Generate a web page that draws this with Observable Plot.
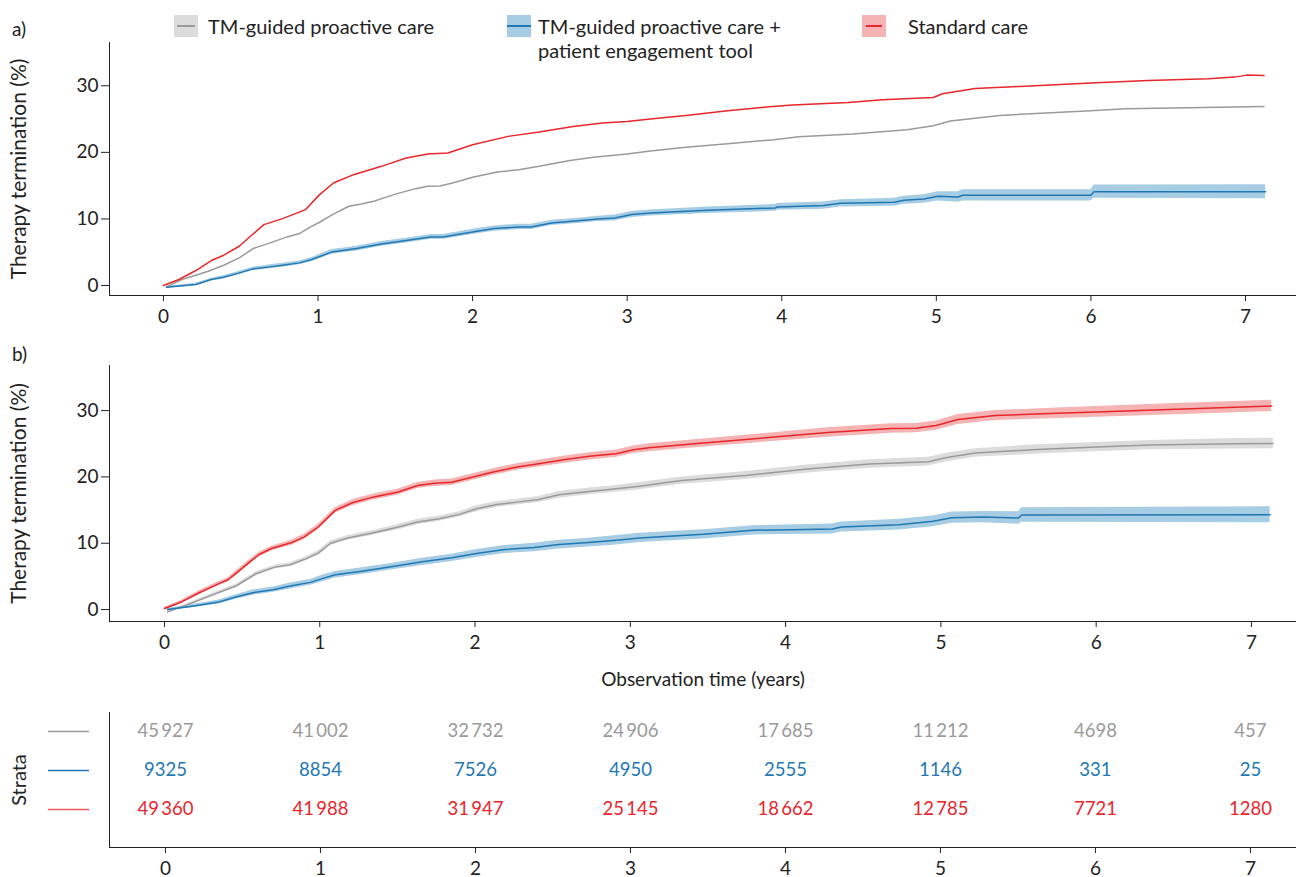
<!DOCTYPE html>
<html>
<head>
<meta charset="utf-8">
<script src="https://cdn.jsdelivr.net/npm/d3@7"></script>
<script src="https://cdn.jsdelivr.net/npm/@observablehq/plot@0.6"></script>
<style>
  html, body { margin: 0; padding: 0; background: #fff; }
  body { width: 1296px; height: 877px; overflow: hidden; font-family: Lato, "Noto Sans", sans-serif; color: #222; }
  #wrap { position: relative; width: 1296px; height: 877px; }
  .panel-label { font-size: 19px; }
  .leg-text { font-size: 20px; line-height: 24px; white-space: nowrap; }
  .sw { position: absolute; width: 24px; height: 22px; }
  .sw i { position: absolute; top: 10px; height: 2px; }
</style>
</head>
<body>
<div id="wrap"></div>
<script>
// ---------- DATA ----------
const seriesNames = ["TM-guided proactive care", "TM-guided proactive care +\npatient engagement tool", "Standard care"];
const yearTicks = [0, 1, 2, 3, 4, 5, 6, 7];
const yTicks = [0, 10, 20, 30];

// Panel a) — cumulative therapy termination (%)
const aRedT  = [0, 0.1, 0.21, 0.31, 0.39, 0.49, 0.57, 0.65, 0.77, 0.92, 1.01, 1.1, 1.23, 1.41, 1.57, 1.71, 1.84, 2.0, 2.23, 2.43, 2.65, 2.84, 3.0, 3.15, 3.38, 3.65, 3.92, 4.07, 4.43, 4.65, 4.98, 5.04, 5.11, 5.25, 5.54, 6.0, 6.37, 6.76, 6.93, 7.01, 7.12];
const aRedV  = [0, 0.9, 2.25, 3.75, 4.55, 5.9, 7.55, 9.15, 10.05, 11.4, 13.65, 15.4, 16.65, 17.9, 19.15, 19.75, 19.9, 21.15, 22.4, 23.05, 23.9, 24.4, 24.65, 25.0, 25.55, 26.25, 26.85, 27.1, 27.5, 27.9, 28.25, 28.8, 29.05, 29.6, 29.9, 30.4, 30.8, 31.05, 31.3, 31.6, 31.55];
const aGrayT = [0.02, 0.12, 0.29, 0.39, 0.49, 0.58, 0.69, 0.8, 0.88, 0.94, 1.01, 1.09, 1.2, 1.28, 1.36, 1.49, 1.63, 1.71, 1.79, 1.87, 2.0, 2.16, 2.3, 2.43, 2.62, 2.78, 3.0, 3.15, 3.38, 3.65, 3.95, 4.11, 4.46, 4.81, 4.98, 5.09, 5.41, 6.0, 6.22, 6.63, 7.12];
const aGrayV = [-0.2, 0.9, 2.15, 3.05, 4.15, 5.55, 6.4, 7.3, 7.8, 8.65, 9.5, 10.6, 11.9, 12.25, 12.65, 13.65, 14.55, 14.9, 14.95, 15.4, 16.25, 17.05, 17.4, 17.9, 18.75, 19.25, 19.75, 20.2, 20.75, 21.3, 21.9, 22.35, 22.75, 23.4, 24.0, 24.7, 25.55, 26.25, 26.55, 26.7, 26.9];
const aBlueT = [0.02, 0.21, 0.31, 0.39, 0.47, 0.58, 0.69, 0.77, 0.88, 0.96, 1.09, 1.25, 1.41, 1.57, 1.73, 1.81, 2.0, 2.14, 2.3, 2.38, 2.51, 2.7, 2.81, 2.92, 3.03, 3.15, 3.52, 3.96, 3.97, 4.27, 4.38, 4.73, 4.79, 4.92, 5.01, 5.14, 5.17, 6.0, 6.02, 7.13];
const aBlueV = [-0.25, 0.15, 0.9, 1.25, 1.75, 2.5, 2.8, 3.05, 3.4, 3.9, 5.05, 5.55, 6.25, 6.75, 7.3, 7.3, 8.05, 8.55, 8.8, 8.8, 9.4, 9.75, 10.0, 10.15, 10.65, 10.9, 11.3, 11.65, 11.8, 12.0, 12.35, 12.5, 12.8, 13.0, 13.4, 13.3, 13.55, 13.55, 14.1, 14.1];
const aBlueCI = [0.15, 0.2, 0.2, 0.25, 0.25, 0.25, 0.3, 0.3, 0.3, 0.3, 0.35, 0.35, 0.35, 0.35, 0.35, 0.35, 0.4, 0.4, 0.4, 0.4, 0.4, 0.4, 0.4, 0.45, 0.45, 0.45, 0.5, 0.5, 0.5, 0.55, 0.55, 0.6, 0.6, 0.65, 0.7, 0.8, 0.85, 0.85, 1.0, 1.05];

// Panel b)
const bRedT  = [0, 0.11, 0.22, 0.34, 0.41, 0.47, 0.54, 0.61, 0.69, 0.82, 0.9, 0.99, 1.1, 1.21, 1.34, 1.5, 1.63, 1.74, 1.85, 1.98, 2.11, 2.27, 2.41, 2.59, 2.75, 2.91, 3.02, 3.12, 3.47, 3.87, 4.27, 4.68, 4.84, 4.97, 5.11, 5.35, 5.75, 6.0, 6.56, 7.13];
const bRedV  = [0.15, 1.15, 2.5, 3.8, 4.5, 5.65, 7.0, 8.3, 9.2, 10.1, 10.95, 12.45, 14.95, 16.1, 16.95, 17.7, 18.7, 19.05, 19.2, 19.95, 20.7, 21.5, 22.0, 22.65, 23.15, 23.5, 24.1, 24.4, 25.1, 25.9, 26.7, 27.3, 27.35, 27.75, 28.65, 29.25, 29.6, 29.8, 30.25, 30.7];
const bRedCI = [0.2, 0.25, 0.3, 0.3, 0.3, 0.35, 0.35, 0.35, 0.35, 0.4, 0.4, 0.4, 0.4, 0.45, 0.45, 0.45, 0.45, 0.5, 0.5, 0.5, 0.5, 0.5, 0.5, 0.55, 0.55, 0.55, 0.55, 0.6, 0.6, 0.65, 0.7, 0.7, 0.7, 0.7, 0.75, 0.75, 0.8, 0.8, 0.85, 0.85];
const bGrayT = [0.02, 0.14, 0.33, 0.46, 0.59, 0.71, 0.81, 0.91, 0.99, 1.07, 1.18, 1.34, 1.5, 1.63, 1.77, 1.9, 2.01, 2.14, 2.27, 2.41, 2.54, 2.75, 2.91, 3.06, 3.33, 3.74, 4.14, 4.54, 4.92, 5.03, 5.22, 5.62, 6.0, 6.35, 6.89, 7.14];
const bGrayV = [-0.35, 0.65, 2.4, 3.55, 5.4, 6.4, 6.75, 7.65, 8.5, 10.0, 10.8, 11.55, 12.4, 13.2, 13.7, 14.35, 15.2, 15.85, 16.2, 16.6, 17.3, 17.85, 18.2, 18.6, 19.45, 20.2, 21.2, 21.95, 22.3, 22.9, 23.6, 24.15, 24.5, 24.8, 25.0, 25.05];
const bGrayCI = [0.15, 0.2, 0.25, 0.25, 0.3, 0.3, 0.3, 0.3, 0.35, 0.35, 0.35, 0.35, 0.4, 0.4, 0.4, 0.4, 0.45, 0.45, 0.45, 0.45, 0.5, 0.5, 0.5, 0.55, 0.55, 0.6, 0.6, 0.65, 0.65, 0.65, 0.65, 0.7, 0.7, 0.7, 0.8, 0.8];
const bBlueT = [0.02, 0.19, 0.35, 0.46, 0.57, 0.7, 0.81, 0.94, 1.02, 1.1, 1.26, 1.47, 1.66, 1.85, 2.01, 2.19, 2.38, 2.54, 2.73, 2.91, 3.06, 3.47, 3.79, 4.3, 4.36, 4.73, 4.95, 5.07, 5.27, 5.5, 5.52, 7.12];
const bBlueV = [0, 0.55, 1.15, 1.9, 2.55, 3.0, 3.55, 4.1, 4.7, 5.25, 5.75, 6.5, 7.2, 7.8, 8.45, 9.05, 9.35, 9.8, 10.1, 10.45, 10.8, 11.35, 11.95, 12.15, 12.45, 12.8, 13.3, 13.85, 13.95, 13.8, 14.25, 14.3];
const bBlueCI = [0.15, 0.25, 0.3, 0.35, 0.4, 0.4, 0.45, 0.45, 0.5, 0.5, 0.5, 0.5, 0.55, 0.55, 0.6, 0.6, 0.65, 0.65, 0.65, 0.7, 0.7, 0.7, 0.7, 0.75, 0.75, 0.8, 0.8, 0.85, 0.85, 0.95, 1.1, 1.2];

// Numbers at risk table
const strataKeys = ["gray", "blue", "red"];
const riskGray = [45927, 41002, 32732, 24906, 17685, 11212, 4698, 457];
const riskBlue = [9325, 8854, 7526, 4950, 2555, 1146, 331, 25];
const riskRed  = [49360, 41988, 31947, 25145, 18662, 12785, 7721, 1280];

// ---------- STYLE ----------
const lineCol = {gray: "#9a9a9a", blue: "#1f78b4", red: "#e8262b"};
const bandCol = {gray: "#dcdcdc", blue: "#a6cde3", red: "#f5b3b3"};
const textCol = {gray: "#9a9a9a", blue: "#1f78b4", red: "#e8262b"};
const stratCol = {gray: "#9a9a9a", blue: "#1f78b4", red: "#ee5a5c"};
const FONT = "Lato, 'Noto Sans', sans-serif";
const ML = 109;

const wrap = document.getElementById("wrap");
function place(el, left, top) { el.style.position = "absolute"; el.style.left = left + "px"; el.style.top = top + "px"; wrap.appendChild(el); }
function rows(T, V, CI) { return T.map((t, i) => ({t, v: V[i], lo: CI ? V[i] - CI[i] : null, hi: CI ? V[i] + CI[i] : null})); }
function bigLabel(svg, size) {
  svg.querySelectorAll('g[aria-label="y-axis label"]').forEach(g => g.setAttribute("font-size", size));
}

// ---------- LEGEND ----------
function legendItem(x, swLeft, kind, text, inset) {
  const sw = document.createElement("div");
  sw.className = "sw";
  sw.style.background = bandCol[kind];
  const ln = document.createElement("i");
  ln.style.left = inset + "px"; ln.style.right = inset + "px"; ln.style.background = lineCol[kind];
  sw.appendChild(ln);
  place(sw, swLeft, 15);
  const t = document.createElement("div");
  t.className = "leg-text";
  t.innerHTML = text.replace("\n", "<br>");
  place(t, x, 14);
}
legendItem(208, 174, "gray", seriesNames[0], 3);
legendItem(538, 507, "blue", seriesNames[1], 0);
legendItem(908, 862, "red", seriesNames[2], 4);

function panelLabel(txt, top) { const d = document.createElement("div"); d.className = "panel-label"; d.textContent = txt; place(d, 12, top); }
panelLabel("a)", 17);
panelLabel("b)", 342);

const baseStyle = {fontFamily: FONT, fontSize: "19px", color: "#222", background: "transparent", overflow: "visible"};

// ---------- PANEL A ----------
const aGray = rows(aGrayT, aGrayV), aRed = rows(aRedT, aRedV), aBlue = rows(aBlueT, aBlueV, aBlueCI);
const plotA = Plot.plot({
  width: 1296, height: 340,
  marginLeft: ML, marginRight: 0, marginTop: 42, marginBottom: 45,
  style: baseStyle,
  x: {domain: [-0.349, 7.33], ticks: yearTicks, tickSize: 6, tickPadding: 8, line: true, label: null},
  y: {domain: [-1.5, 36.5], ticks: yTicks, tickSize: 8, tickPadding: 3, line: true, label: "Therapy termination (%)", labelAnchor: "center", labelOffset: 98, labelArrow: "none"},
  marks: [
    Plot.areaY(aBlue, {x: "t", y1: "lo", y2: "hi", fill: bandCol.blue}),
    Plot.lineY(aGray, {x: "t", y: "v", stroke: lineCol.gray, strokeWidth: 1.5}),
    Plot.lineY(aBlue, {x: "t", y: "v", stroke: lineCol.blue, strokeWidth: 1.5}),
    Plot.lineY(aRed, {x: "t", y: "v", stroke: lineCol.red, strokeWidth: 1.5})
  ]
});
bigLabel(plotA, 21);
place(plotA, 0, 0);

// ---------- PANEL B ----------
const bGray = rows(bGrayT, bGrayV, bGrayCI), bRed = rows(bRedT, bRedV, bRedCI), bBlue = rows(bBlueT, bBlueV, bBlueCI);
const plotB = Plot.plot({
  width: 1296, height: 330,
  marginLeft: ML, marginRight: 0, marginTop: 25, marginBottom: 49,
  style: baseStyle,
  x: {domain: [-0.354, 7.29], ticks: yearTicks, tickSize: 6, tickPadding: 8, line: true, label: null},
  y: {domain: [-1.8, 36.8], ticks: yTicks, tickSize: 8, tickPadding: 3, line: true, label: "Therapy termination (%)", labelAnchor: "center", labelOffset: 98, labelArrow: "none"},
  marks: [
    Plot.areaY(bGray, {x: "t", y1: "lo", y2: "hi", fill: bandCol.gray}),
    Plot.areaY(bBlue, {x: "t", y1: "lo", y2: "hi", fill: bandCol.blue}),
    Plot.areaY(bRed, {x: "t", y1: "lo", y2: "hi", fill: bandCol.red}),
    Plot.lineY(bGray, {x: "t", y: "v", stroke: lineCol.gray, strokeWidth: 1.5}),
    Plot.lineY(bBlue, {x: "t", y: "v", stroke: lineCol.blue, strokeWidth: 1.5}),
    Plot.lineY(bRed, {x: "t", y: "v", stroke: lineCol.red, strokeWidth: 1.5})
  ]
});
bigLabel(plotB, 21);
place(plotB, 0, 340);

const xl = document.createElement("div");
xl.textContent = "Observation time (years)";
xl.style.fontSize = "19px"; xl.style.width = "1296px"; xl.style.textAlign = "center"; xl.style.paddingLeft = "110px"; xl.style.boxSizing = "border-box";
place(xl, 0, 667);

// ---------- RISK TABLE ----------
const fmt = n => n >= 10000 ? String(n).replace(/(\d+)(\d{3})$/, "$1\u2009$2") : String(n);
const riskBy = {gray: riskGray, blue: riskBlue, red: riskRed};
const tableMarks = [];
for (const k of strataKeys) {
  const data = yearTicks.map((t, i) => ({t, s: k, n: riskBy[k][i]}));
  tableMarks.push(Plot.text(data, {x: "t", y: "s", text: d => fmt(d.n), fill: textCol[k], fontSize: 18.5}));
  tableMarks.push(Plot.ruleY([k], {y: d => d, stroke: stratCol[k], strokeWidth: 1.5, insetLeft: 48 - ML, insetRight: 1296 - 89}));
}
const plotT = Plot.plot({
  width: 1296, height: 187,
  marginLeft: ML, marginRight: 0, marginTop: 22, marginBottom: 30,
  style: baseStyle,
  x: {domain: [-0.361, 7.297], ticks: yearTicks, tickSize: 6, tickPadding: 8, line: true, label: null},
  y: {type: "point", domain: strataKeys, padding: 0, insetTop: 19, insetBottom: 38, tickSize: 0, tickFormat: () => "", line: true, label: "Strata", labelAnchor: "center", labelOffset: 98, labelArrow: "none"},
  marks: tableMarks
});
bigLabel(plotT, 20);
place(plotT, 0, 690);
</script>
</body>
</html>
